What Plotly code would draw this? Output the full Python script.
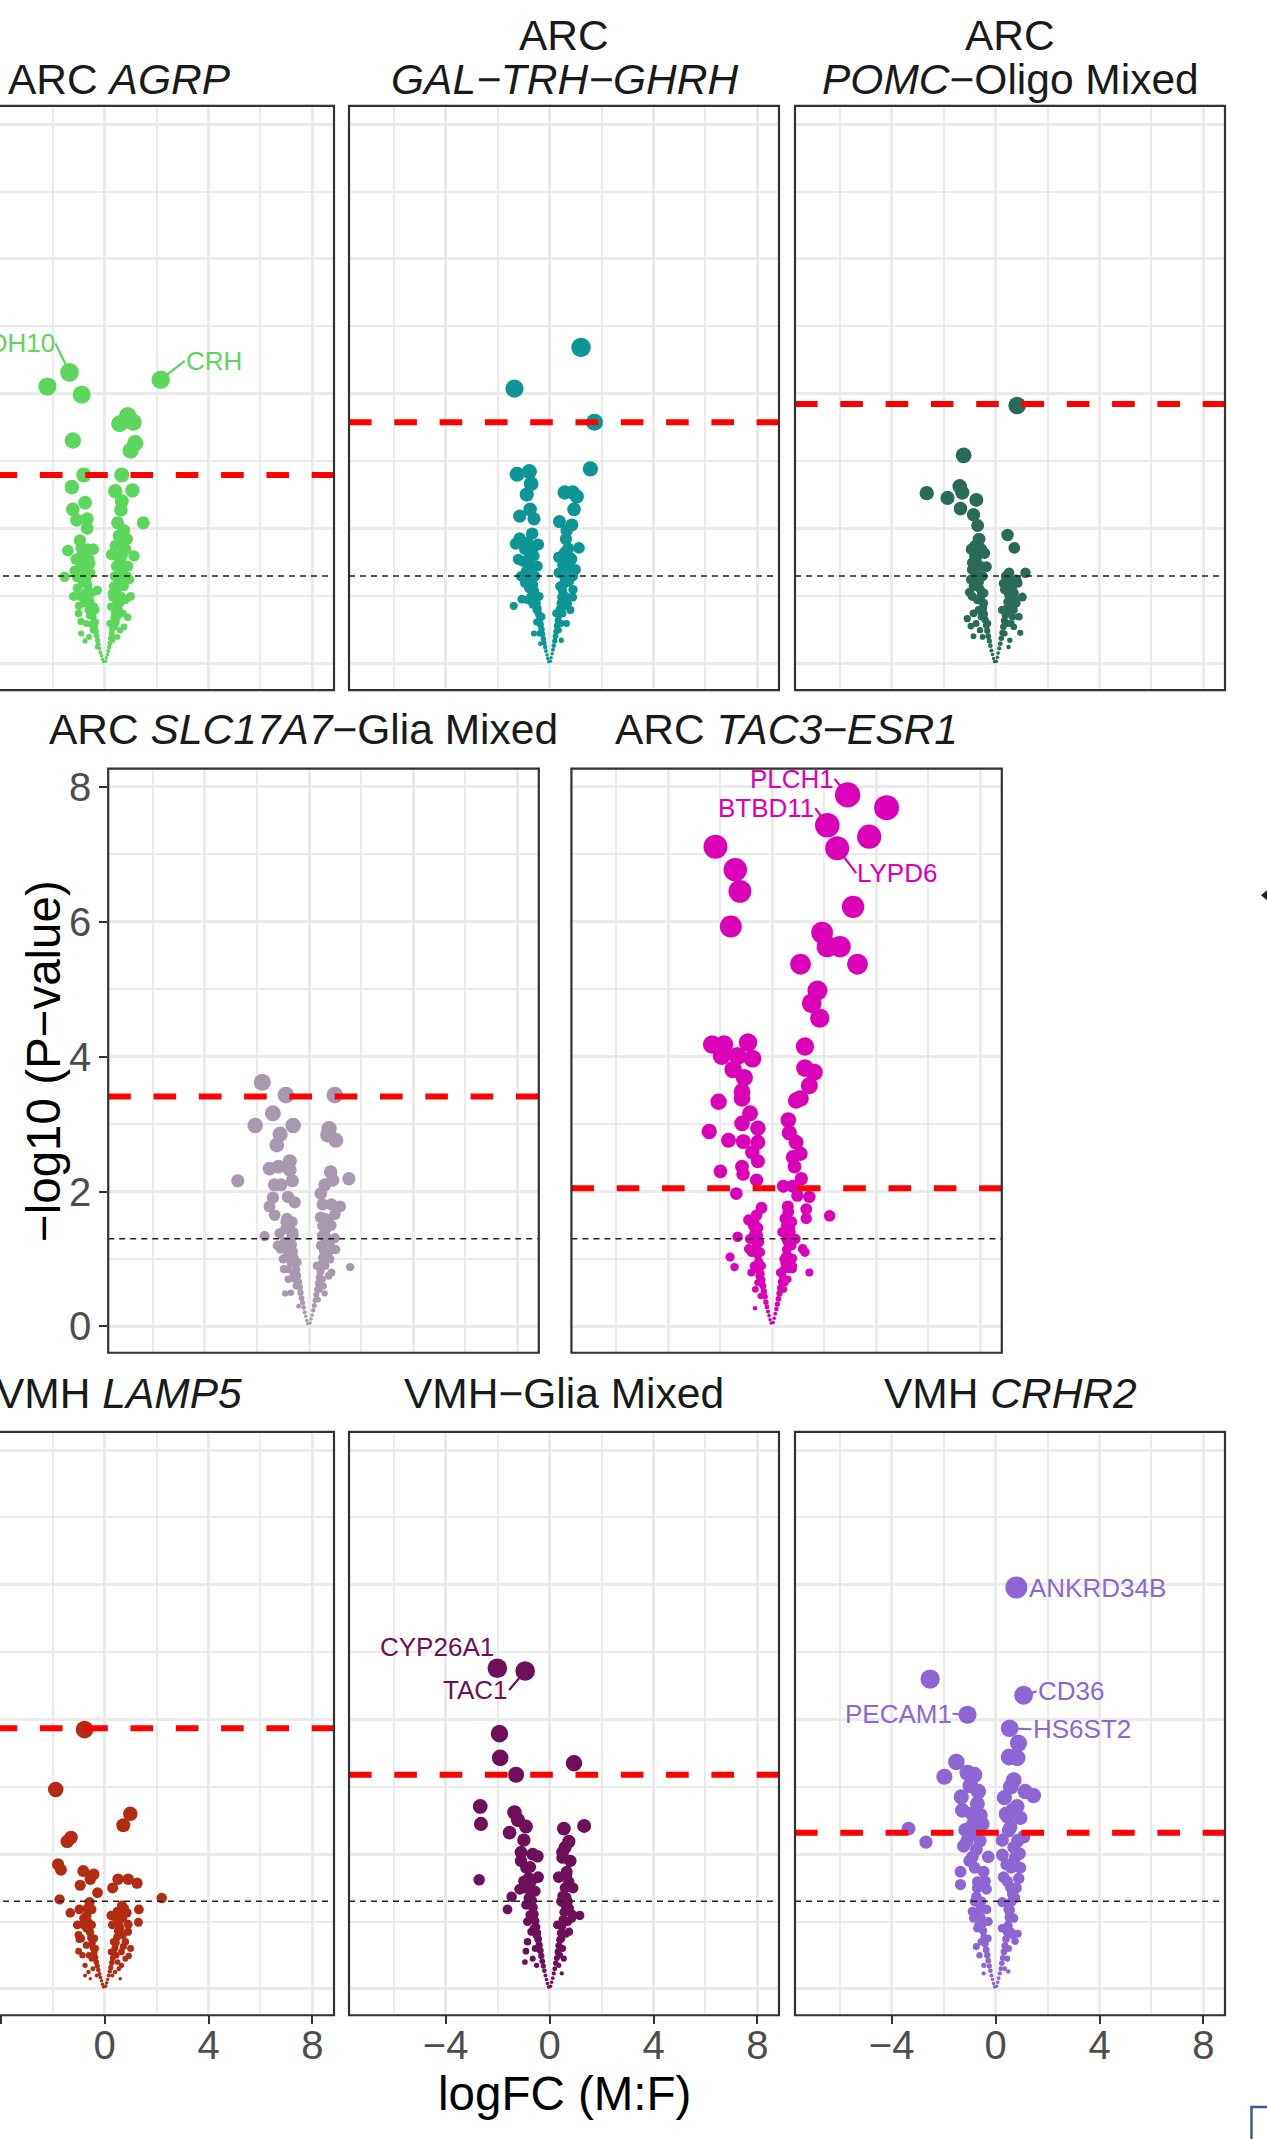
import math
import plotly.graph_objects as go

# ---------------- data ----------------
x_range = [-7.72, 8.83]
y_range = [-0.39, 8.27]
x_major = [-4, 0, 4, 8]
x_minor = [-6, -2, 2, 6]
y_major = [0, 2, 4, 6, 8]
y_minor = [1, 3, 5, 7]
nominal_p = 1.30103  # -log10(0.05)

agrp_pts = [(-1.35, 4.32), (-2.20, 4.11), (-0.88, 3.99), (2.16, 4.21), (0.58, 3.56), (0.89, 3.68),
            (1.10, 3.58), (-1.22, 3.31), (1.18, 3.27), (1.00, 3.16), (-0.80, 2.80), (0.66, 2.80),
            (-1.26, 2.62), (0.41, 2.56), (1.07, 2.57), (-0.75, 2.39), (0.66, 2.41), (-1.22, 2.29),
            (0.63, 2.28), (-1.07, 2.13), (-0.67, 2.15), (-0.67, 2.01), (0.50, 2.09), (1.49, 2.09),
            (0.74, 1.98), (-1.41, 1.68), (-0.44, 1.70), (-0.91, 1.58), (-0.56, 1.49), (0.42, 1.75),
            (0.86, 1.85), (1.13, 1.60), (0.27, 1.62), (-0.94, 1.42), (-1.07, 1.29), (-1.54, 1.29),
            (0.66, 1.42), (0.58, 1.22), (-0.28, 1.09), (-0.75, 0.99), (0.31, 0.99), (-0.99, 0.86),
            (0.89, 0.69), (-0.91, 0.63), (-0.75, 0.34), (0.50, 0.40),
            (-0.04, 0.03), (-0.08, 0.07), (-0.12, 0.12), (-0.16, 0.17), (-0.20, 0.23), (-0.24, 0.29),
            (-0.27, 0.35), (-0.31, 0.42), (-0.34, 0.48), (-0.38, 0.55), (-0.41, 0.62), (-0.45, 0.70),
            (-0.48, 0.77), (-0.52, 0.85), (-0.55, 0.93), (-0.59, 1.02), (-0.63, 1.10), (-0.66, 1.18),
            (-0.70, 1.26), (-0.74, 1.35), (-0.78, 1.44), (-0.82, 1.53), (-0.86, 1.62), (-0.90, 1.72),
            (-0.95, 1.83), (-0.30, 0.25), (-0.50, 0.58), (-0.62, 0.80), (-0.75, 1.05), (-0.85, 1.20),
            (-1.05, 1.12), (-0.45, 0.50), (-0.58, 0.72), (-0.35, 0.62), (-0.66, 0.95), (-0.80, 0.90),
            (-1.15, 1.38), (0.04, 0.04), (0.07, 0.09), (0.11, 0.14), (0.14, 0.19), (0.18, 0.25),
            (0.21, 0.31), (0.24, 0.38), (0.27, 0.45), (0.30, 0.52), (0.33, 0.60), (0.36, 0.68),
            (0.39, 0.76), (0.42, 0.85), (0.45, 0.94), (0.48, 1.03), (0.51, 1.12), (0.54, 1.21),
            (0.57, 1.31), (0.61, 1.41), (0.64, 1.51), (0.68, 1.62), (0.72, 1.73), (0.76, 1.85),
            (0.30, 0.35), (0.45, 0.62), (0.55, 0.80), (0.65, 1.00), (0.75, 1.15), (0.40, 0.55),
            (0.60, 0.90), (0.20, 0.60), (0.85, 1.30), (0.95, 1.25), (0.70, 0.75), (0.25, 0.85),
            (0.35, 1.15),
            (-0.85, 1.45), (-0.60, 1.55), (-0.95, 1.00), (-0.70, 0.60), (-0.55, 1.35), (-0.80, 1.65),
            (-1.10, 1.55), (-0.40, 0.85), (-0.65, 1.70), (-0.50, 1.05), (-1.00, 0.75), (-0.90, 0.45),
            (-0.60, 0.40), (-0.35, 0.80), (-1.20, 1.00), (0.55, 1.55), (0.70, 1.35), (0.40, 1.30),
            (0.80, 1.70), (0.50, 0.70), (0.65, 1.20), (0.30, 1.05), (0.80, 0.95), (0.90, 1.45),
            (0.45, 1.45), (0.60, 0.50), (0.35, 0.40), (1.00, 1.00), (0.75, 0.55), (0.55, 1.90)]

gal_pts = [(1.21, 4.69), (-1.35, 4.08), (1.73, 3.58), (1.57, 2.89), (-1.25, 2.81), (-0.78, 2.85),
           (-0.71, 2.67), (-0.88, 2.51), (0.58, 2.54), (0.89, 2.54), (1.05, 2.48), (0.94, 2.29),
           (-0.75, 2.29), (-1.15, 2.19), (-0.60, 2.15), (0.38, 2.11), (0.86, 2.06), (0.66, 1.98),
           (-1.15, 1.86), (-0.67, 1.93), (-1.30, 1.78), (-0.44, 1.77), (0.63, 1.85), (1.13, 1.72),
           (-0.67, 1.68), (0.35, 1.58), (0.82, 1.57), (-0.47, 1.45), (0.50, 1.47), (0.74, 1.39),
           (-0.91, 1.29), (-1.07, 0.96), (-1.38, 0.86), (0.89, 0.99),
           (-0.03, 0.03), (-0.07, 0.08), (-0.10, 0.13), (-0.14, 0.19), (-0.17, 0.25), (-0.21, 0.31),
           (-0.24, 0.37), (-0.28, 0.44), (-0.31, 0.51), (-0.35, 0.58), (-0.38, 0.66), (-0.42, 0.74),
           (-0.46, 0.82), (-0.50, 0.90), (-0.54, 0.99), (-0.58, 1.08), (-0.62, 1.17), (-0.66, 1.26),
           (-0.70, 1.36), (-0.74, 1.46), (-0.78, 1.57), (-0.83, 1.68), (-0.87, 1.80), (-0.50, 0.62),
           (-0.65, 0.88), (-0.80, 1.12), (-0.90, 1.38), (-0.40, 0.45), (-0.72, 1.00), (-0.95, 1.20),
           (-0.30, 0.70), (-1.02, 1.52), (-0.55, 1.30),
           (0.03, 0.04), (0.06, 0.09), (0.10, 0.15), (0.13, 0.21), (0.16, 0.27), (0.20, 0.34),
           (0.23, 0.41), (0.26, 0.48), (0.29, 0.56), (0.33, 0.64), (0.36, 0.72), (0.39, 0.81),
           (0.43, 0.90), (0.46, 0.99), (0.50, 1.08), (0.53, 1.18), (0.57, 1.28), (0.60, 1.38),
           (0.64, 1.49), (0.68, 1.60), (0.72, 1.71), (0.35, 0.50), (0.50, 0.75), (0.62, 1.00),
           (0.75, 1.22), (0.80, 1.40), (0.45, 0.60), (0.70, 0.90), (0.90, 1.10), (0.25, 0.75),
           (0.85, 1.55), (0.58, 1.65),
           (-0.80, 1.50), (-0.60, 1.60), (-0.95, 1.70), (-0.70, 1.15), (-0.85, 0.95), (-1.10, 1.30),
           (-0.50, 0.80), (-0.60, 0.45), (-0.40, 1.00), (-0.75, 1.75), (-1.20, 1.55), (-0.35, 0.30),
           (0.60, 1.20), (0.75, 1.45), (0.55, 0.85), (0.70, 1.70), (0.40, 1.15), (0.90, 1.30),
           (0.65, 0.60), (0.45, 0.35), (0.80, 0.80), (1.00, 1.40), (0.35, 1.35)]

pomc_pts = [(0.83, 3.83), (-1.23, 3.09), (-2.65, 2.53), (-1.85, 2.46), (-1.38, 2.63), (-1.28, 2.54),
            (-0.74, 2.43), (-1.35, 2.30), (-0.85, 2.21), (-0.69, 2.05), (-0.62, 1.85), (0.46, 1.91),
            (0.72, 1.72), (-0.92, 1.70), (-0.43, 1.64), (-0.89, 1.50), (-0.35, 1.44), (1.15, 1.35),
            (0.52, 1.35), (-0.82, 1.22), (0.31, 1.19), (0.65, 1.22), (1.03, 0.99), (-1.00, 1.06),
            (-1.09, 0.67), (-0.95, 0.56), (-0.85, 0.41), (0.95, 0.46),
            (-0.04, 0.03), (-0.08, 0.08), (-0.12, 0.14), (-0.16, 0.20), (-0.20, 0.27), (-0.24, 0.34),
            (-0.28, 0.41), (-0.32, 0.49), (-0.36, 0.57), (-0.40, 0.65), (-0.44, 0.74), (-0.48, 0.83),
            (-0.52, 0.92), (-0.56, 1.01), (-0.60, 1.11), (-0.64, 1.21), (-0.68, 1.31), (-0.72, 1.42),
            (-0.75, 1.55), (-0.70, 1.62), (-0.78, 1.75), (-0.55, 0.70), (-0.70, 0.95), (-0.85, 1.15),
            (-0.60, 0.50), (-0.50, 1.30), (-0.90, 1.40), (-0.45, 1.05), (-0.65, 1.85), (-0.30, 0.60),
            (0.03, 0.04), (0.07, 0.10), (0.10, 0.16), (0.14, 0.23), (0.18, 0.30), (0.22, 0.38),
            (0.26, 0.46), (0.30, 0.55), (0.34, 0.64), (0.38, 0.73), (0.42, 0.82), (0.46, 0.92),
            (0.50, 1.02), (0.54, 1.12), (0.58, 1.24), (0.45, 0.60), (0.60, 0.85), (0.72, 1.05),
            (0.80, 0.90), (0.35, 1.10), (0.65, 0.70), (0.25, 0.80), (0.85, 1.20), (0.70, 0.55),
            (0.55, 0.35), (0.40, 1.30),
            (-0.75, 1.30), (-0.60, 1.45), (-0.80, 1.60), (-0.90, 1.00), (-0.65, 0.80), (-0.70, 1.15),
            (-0.55, 1.70), (-0.85, 0.75), (-0.45, 0.90), (-0.95, 1.25), (-0.75, 0.60), (-0.50, 0.40),
            (0.55, 1.00), (0.65, 1.10), (0.70, 0.80), (0.50, 0.75), (0.60, 0.60), (0.45, 1.20),
            (0.75, 0.95), (0.35, 0.45), (0.90, 0.70), (0.80, 1.25), (0.50, 0.25)]

slc_pts = [(-1.80, 3.62), (-0.89, 3.43), (0.99, 3.43), (-1.39, 3.16), (-2.07, 2.98), (-0.61, 2.98),
           (-1.11, 2.85), (0.77, 2.93), (0.72, 2.84), (1.03, 2.76), (-1.24, 2.69), (-0.74, 2.45),
           (-1.52, 2.34), (-1.17, 2.37), (-0.74, 2.32), (-2.74, 2.16), (-0.64, 2.16), (-1.33, 2.10),
           (-1.08, 2.10), (0.83, 2.29), (1.53, 2.19), (0.61, 2.10), (0.91, 2.17), (0.45, 1.97),
           (-1.39, 1.91), (-0.81, 1.92), (-0.55, 1.84), (-1.52, 1.78), (0.86, 1.81), (1.19, 1.78),
           (0.52, 1.81), (-1.32, 1.65), (0.99, 1.66), (0.44, 1.62), (-0.89, 1.55), (0.52, 1.49),
           (-1.71, 1.34), (-1.13, 1.38), (0.99, 1.31), (-0.61, 1.40), (-1.21, 1.20), (-0.89, 1.14),
           (1.02, 1.14), (1.58, 0.88), (-0.97, 0.85), (0.86, 0.80), (-0.92, 0.49), (0.60, 0.49),
           (-0.05, 0.04), (-0.09, 0.09), (-0.13, 0.15), (-0.17, 0.21), (-0.21, 0.28), (-0.25, 0.35),
           (-0.29, 0.42), (-0.33, 0.50), (-0.37, 0.58), (-0.41, 0.66), (-0.45, 0.75), (-0.49, 0.84),
           (-0.53, 0.93), (-0.57, 1.02), (-0.61, 1.11), (-0.65, 1.21), (-0.69, 1.31), (-0.73, 1.42),
           (-0.77, 1.53), (-0.50, 0.60), (-0.70, 0.95), (-0.85, 1.05), (-0.40, 0.30), (-0.60, 0.78),
           (-0.95, 1.25), (-0.80, 0.70),
           (0.04, 0.05), (0.08, 0.11), (0.12, 0.17), (0.16, 0.24), (0.20, 0.31), (0.24, 0.39),
           (0.28, 0.47), (0.32, 0.55), (0.36, 0.64), (0.40, 0.73), (0.44, 0.82), (0.48, 0.92),
           (0.52, 1.02), (0.56, 1.12), (0.60, 1.23), (0.64, 1.34), (0.68, 1.46), (0.72, 1.58),
           (0.50, 0.70), (0.62, 0.90), (0.75, 1.10), (0.35, 0.40), (0.80, 1.25), (0.45, 1.20),
           (0.30, 0.90),
           (-0.75, 1.20), (-0.90, 1.45), (-0.65, 1.55), (-1.00, 1.00), (-0.55, 0.70), (-0.80, 0.85),
           (-0.70, 0.50), (-1.10, 1.15), (-0.60, 1.35), (-0.45, 0.95), (-0.85, 1.60),
           (0.60, 1.00), (0.70, 1.30), (0.55, 0.60), (0.65, 1.45), (0.80, 1.00), (0.50, 1.35),
           (0.75, 0.75), (0.40, 0.55), (0.85, 1.50), (0.60, 1.60), (0.90, 1.15)]

tac3_pts = [(2.90, 7.88), (4.40, 7.69), (2.12, 7.43), (3.73, 7.26), (2.50, 7.09), (-2.18, 7.11),
            (-1.42, 6.77), (-1.24, 6.45), (3.11, 6.22), (-1.59, 5.93), (1.92, 5.84), (2.12, 5.63),
            (2.61, 5.63), (1.09, 5.37), (3.28, 5.37), (1.74, 4.98), (1.52, 4.79), (1.83, 4.57),
            (1.26, 4.15), (-2.31, 4.18), (-1.85, 4.18), (-0.93, 4.21), (-1.94, 4.01), (-1.33, 4.01),
            (-0.76, 3.97), (-1.50, 3.81), (-1.07, 3.69), (1.26, 3.83), (1.61, 3.77), (1.43, 3.57),
            (1.09, 3.38), (0.92, 3.35), (-1.16, 3.48), (-1.16, 3.38), (-2.06, 3.33), (-0.85, 3.16),
            (0.62, 3.06), (0.66, 2.87), (-2.42, 2.89), (-1.16, 3.01), (-0.55, 2.94), (-1.68, 2.76),
            (-1.11, 2.74), (-0.55, 2.73), (-0.76, 2.58), (0.92, 2.73), (1.09, 2.56), (0.80, 2.51),
            (-0.55, 2.45), (-1.16, 2.37), (-1.12, 2.26), (-1.99, 2.30), (0.86, 2.37), (1.12, 2.19),
            (-0.60, 2.17), (-1.38, 1.97), (0.43, 2.08), (0.79, 2.08), (0.97, 1.94), (1.43, 1.92),
            (2.21, 1.64), (0.60, 1.78), (1.31, 1.74), (1.31, 1.60), (-0.41, 1.76), (-0.90, 1.58),
            (-0.55, 1.46), (-1.33, 1.33), (-1.62, 1.03), (-1.45, 0.88), (1.17, 1.15), (1.26, 1.10),
            (0.79, 1.01), (0.79, 0.85), (1.43, 0.80), (-0.66, 0.27),
            (-0.04, 0.05), (-0.08, 0.10), (-0.12, 0.16), (-0.16, 0.22), (-0.20, 0.29), (-0.24, 0.36),
            (-0.28, 0.44), (-0.32, 0.52), (-0.36, 0.60), (-0.40, 0.69), (-0.44, 0.78), (-0.48, 0.87),
            (-0.52, 0.97), (-0.56, 1.07), (-0.60, 1.17), (-0.64, 1.27), (-0.68, 1.38), (-0.72, 1.49),
            (-0.55, 0.65), (-0.70, 0.90), (-0.80, 1.10), (-0.45, 0.45), (-0.62, 1.45), (-0.85, 1.30),
            (-0.50, 1.25),
            (0.04, 0.06), (0.08, 0.12), (0.12, 0.19), (0.16, 0.26), (0.20, 0.33), (0.24, 0.41),
            (0.28, 0.49), (0.32, 0.57), (0.36, 0.66), (0.40, 0.75), (0.44, 0.84), (0.48, 0.94),
            (0.52, 1.04), (0.56, 1.14), (0.60, 1.25), (0.64, 1.36), (0.68, 1.47), (0.45, 0.55),
            (0.60, 0.70), (0.70, 0.95), (0.75, 1.20), (0.30, 0.80), (0.55, 1.50), (0.40, 1.40),
            (-0.70, 1.10), (-0.75, 1.30), (-0.60, 0.85), (-0.50, 0.75), (-0.65, 0.55), (-0.80, 0.80),
            (-0.55, 1.35), (-0.90, 1.15), (-0.40, 0.90), (-0.70, 1.55), (-0.60, 1.65), (-0.45, 1.10),
            (0.60, 1.05), (0.65, 0.85), (0.50, 0.65), (0.55, 1.30), (0.70, 1.40), (0.45, 1.00),
            (0.75, 1.55), (0.35, 0.55), (0.80, 0.90), (0.50, 1.60), (0.62, 1.70), (0.90, 1.30)]

lamp5_pts = [(-0.77, 3.85), (-1.88, 2.96), (0.99, 2.60), (0.72, 2.43), (-1.29, 2.25), (-1.44, 2.19),
             (-1.79, 1.85), (-1.68, 1.77), (-0.82, 1.75), (-0.42, 1.70), (-0.55, 1.63), (-0.94, 1.54),
             (0.52, 1.63), (0.91, 1.63), (1.25, 1.57), (0.31, 1.50), (-0.27, 1.43), (-1.73, 1.33),
             (2.20, 1.35), (-0.58, 1.29), (0.67, 1.24), (-0.50, 1.18), (-1.32, 1.13), (-0.97, 1.18),
             (0.86, 1.13), (1.32, 1.18), (0.25, 1.09), (0.44, 1.06), (1.30, 0.99), (-0.85, 0.96),
             (0.91, 0.96), (-1.00, 0.80), (-0.97, 0.74), (0.72, 0.63), (-1.00, 0.56), (0.93, 0.49),
             (-0.04, 0.03), (-0.08, 0.07), (-0.12, 0.12), (-0.16, 0.17), (-0.20, 0.22), (-0.24, 0.28),
             (-0.28, 0.34), (-0.32, 0.40), (-0.36, 0.47), (-0.40, 0.54), (-0.44, 0.61), (-0.48, 0.68),
             (-0.52, 0.76), (-0.56, 0.84), (-0.60, 0.92), (-0.64, 1.00), (-0.68, 1.09), (-0.30, 0.20),
             (-0.50, 0.45), (-0.70, 0.65), (-0.85, 0.50), (-0.75, 0.35), (-0.45, 0.30), (-0.62, 0.25),
             (0.04, 0.04), (0.08, 0.09), (0.12, 0.14), (0.16, 0.20), (0.20, 0.26), (0.24, 0.32),
             (0.28, 0.39), (0.32, 0.46), (0.36, 0.53), (0.40, 0.61), (0.44, 0.69), (0.48, 0.77),
             (0.52, 0.86), (0.56, 0.95), (0.30, 0.20), (0.50, 0.40), (0.65, 0.55), (0.80, 0.45),
             (0.55, 0.30), (0.70, 0.80), (0.40, 0.25), (0.25, 0.55),
             (-0.70, 0.90), (-0.80, 1.05), (-0.60, 0.50), (-0.50, 0.95), (-0.90, 0.75), (-0.75, 0.20),
             (-0.40, 0.75), (-0.65, 1.20), (-0.55, 0.15), (-0.35, 0.60), (-1.05, 0.95),
             (0.60, 0.90), (0.70, 1.05), (0.45, 0.50), (0.35, 0.70), (0.65, 0.35), (0.80, 0.70),
             (0.50, 1.15), (0.30, 0.95), (0.90, 0.85), (0.60, 0.15), (1.00, 0.60), (0.75, 1.20)]

glia_pts = [(-2.01, 4.76), (-0.94, 4.72), (-1.93, 3.79), (-1.90, 3.43), (-1.29, 3.18), (0.94, 3.35),
            (-2.67, 2.71), (-2.64, 2.45), (-2.71, 1.62), (-1.35, 2.62), (-1.22, 2.51), (-0.91, 2.41),
            (-1.54, 2.32), (-0.99, 2.21), (0.55, 2.38), (1.33, 2.42), (0.74, 2.19), (0.50, 2.03),
            (-1.10, 2.03), (-0.47, 1.97), (-0.75, 1.81), (0.66, 1.74), (0.35, 1.66), (-0.44, 1.66),
            (-0.99, 1.60), (0.74, 1.59), (-0.75, 1.50), (-1.15, 1.48), (-1.46, 1.37), (0.50, 1.38),
            (-1.62, 1.18), (0.86, 1.11), (1.16, 1.09), (-0.91, 0.56), (0.47, 0.23),
            (-0.04, 0.03), (-0.08, 0.08), (-0.12, 0.14), (-0.16, 0.20), (-0.20, 0.27), (-0.24, 0.34),
            (-0.28, 0.41), (-0.32, 0.49), (-0.36, 0.57), (-0.40, 0.65), (-0.44, 0.74), (-0.48, 0.83),
            (-0.52, 0.92), (-0.56, 1.01), (-0.60, 1.11), (-0.64, 1.21), (-0.68, 1.31), (-0.72, 1.42),
            (-0.76, 1.53), (-0.80, 1.65), (-0.55, 0.60), (-0.70, 0.85), (-0.85, 1.00), (-0.50, 0.35),
            (-0.90, 1.25), (-0.65, 0.45),
            (0.04, 0.04), (0.08, 0.10), (0.12, 0.16), (0.16, 0.23), (0.20, 0.30), (0.24, 0.38),
            (0.28, 0.46), (0.32, 0.55), (0.36, 0.64), (0.40, 0.73), (0.44, 0.83), (0.48, 0.93),
            (0.52, 1.03), (0.56, 1.14), (0.60, 1.25), (0.64, 1.36), (0.50, 0.60), (0.62, 0.82),
            (0.70, 1.00), (0.35, 0.35), (0.75, 1.20), (0.45, 1.30), (0.30, 0.95), (0.55, 0.45),
            (-0.80, 1.35), (-0.70, 1.60), (-0.90, 1.80), (-0.60, 0.90), (-0.75, 1.10), (-0.85, 0.70),
            (-1.00, 1.50), (-0.55, 1.45), (-0.65, 2.00), (-0.50, 0.80), (-1.10, 1.90), (-0.95, 0.40),
            (0.60, 1.50), (0.65, 1.70), (0.55, 1.00), (0.70, 1.30), (0.75, 0.85), (0.45, 0.75),
            (0.80, 1.90), (0.60, 2.10), (0.50, 1.95), (0.90, 1.50), (0.40, 0.50), (0.85, 1.05)]

crhr2_pts = [(0.80, 5.96), (-2.52, 4.60), (1.08, 4.36), (-1.08, 4.07), (0.54, 3.87), (0.88, 3.65),
             (0.52, 3.44), (0.83, 3.43), (-1.51, 3.37), (-1.97, 3.15), (-1.08, 3.21), (-0.82, 3.18),
             (-0.97, 3.02), (-0.66, 2.93), (0.58, 3.00), (1.14, 2.93), (1.46, 2.87), (0.34, 2.84),
             (-1.32, 2.85), (-1.28, 2.65), (0.83, 2.71), (-0.58, 2.58), (0.46, 2.56), (0.95, 2.54),
             (-0.89, 2.43), (-1.17, 2.36), (-3.35, 2.38), (-2.68, 2.18), (0.57, 2.40), (1.08, 2.26),
             (0.26, 2.21), (-1.23, 2.12), (-0.74, 2.07), (0.92, 2.01), (0.26, 1.99), (-0.28, 1.96),
             (-0.89, 1.96), (0.42, 1.85), (-1.35, 1.74), (-0.46, 1.74), (0.89, 1.64), (0.31, 1.66),
             (-1.35, 1.55), (-0.69, 1.59), (-0.35, 1.48), (0.57, 1.51), (-0.74, 1.37), (0.26, 1.29),
             (-0.89, 1.15), (-0.35, 1.18), (0.49, 1.18), (-0.28, 1.00), (0.49, 0.93), (0.85, 0.82),
             (0.75, 0.71), (-0.74, 0.63), (0.49, 0.26), (-0.46, 0.23),
             (-0.04, 0.03), (-0.08, 0.08), (-0.12, 0.14), (-0.16, 0.20), (-0.20, 0.27), (-0.24, 0.34),
             (-0.28, 0.42), (-0.32, 0.50), (-0.36, 0.58), (-0.40, 0.67), (-0.44, 0.76), (-0.48, 0.86),
             (-0.52, 0.96), (-0.56, 1.06), (-0.60, 1.17), (-0.64, 1.28), (-0.55, 0.70), (-0.70, 0.90),
             (-0.75, 1.10), (-0.62, 0.50), (-0.45, 0.35), (-0.80, 1.30), (-0.30, 0.75),
             (0.04, 0.04), (0.08, 0.10), (0.12, 0.16), (0.16, 0.23), (0.20, 0.30), (0.24, 0.38),
             (0.28, 0.46), (0.32, 0.55), (0.36, 0.64), (0.40, 0.74), (0.44, 0.84), (0.48, 0.95),
             (0.52, 1.06), (0.56, 1.17), (0.60, 1.29), (0.64, 1.41), (0.50, 0.60), (0.65, 0.80),
             (0.70, 1.05), (0.35, 0.30), (0.45, 0.45), (0.75, 1.35), (0.25, 0.90),
             (-0.70, 1.50), (-0.80, 1.80), (-0.60, 2.20), (-0.90, 2.60), (-0.75, 2.30), (-0.55, 1.30),
             (-0.65, 0.95), (-1.00, 1.90), (-0.50, 2.45), (-0.85, 1.05), (-1.10, 2.20), (-0.40, 1.60),
             (-0.70, 2.75), (0.60, 1.80), (0.70, 2.10), (0.50, 2.35), (0.65, 2.65), (0.80, 1.50),
             (0.55, 1.10), (0.75, 1.95), (0.45, 1.60), (0.85, 2.20), (0.60, 0.85), (0.70, 3.10),
             (0.40, 2.60), (0.95, 1.80)]

# significance thresholds (red dashed lines), -log10 scale
thresholds = {"agrp": 2.80, "gal": 3.58, "pomc": 3.85, "slc": 3.41,
              "tac3": 2.05, "lamp5": 3.87, "glia": 3.18, "crhr2": 2.32}

# labelled genes: (gene, logFC, -log10 p)
gene_labels = {
    "agrp": [("CDH10", -1.35, 4.32), ("CRH", 2.16, 4.21)],
    "tac3": [("PLCH1", 2.90, 7.88), ("BTBD11", 2.12, 7.43), ("LYPD6", 2.50, 7.09)],
    "glia": [("CYP26A1", -2.01, 4.76), ("TAC1", -0.94, 4.72)],
    "crhr2": [("ANKRD34B", 0.80, 5.96), ("CD36", 1.08, 4.36), ("PECAM1", -1.08, 4.07),
              ("HS6ST2", 0.54, 3.87)],
}

panel_points = {"agrp": agrp_pts, "gal": gal_pts, "pomc": pomc_pts, "slc": slc_pts,
                "tac3": tac3_pts, "lamp5": lamp5_pts, "glia": glia_pts, "crhr2": crhr2_pts}

# ---------------- styling / layout ----------------
W, H = 1267, 2139
FONT = "Liberation Sans, Arial, Helvetica, sans-serif"

colors = {"agrp": "#5CD65C", "gal": "#0E9696", "pomc": "#2A6A58", "slc": "#A898B0",
          "tac3": "#DB00B8", "lamp5": "#B22B12", "glia": "#6E0F5A", "crhr2": "#8E66D4"}

order = ["agrp", "gal", "pomc", "slc", "tac3", "lamp5", "glia", "crhr2"]
# full panel boxes in pixels: left, right, top, bottom
boxes = {
    "agrp": (-96, 334, 102, 687.5), "gal": (349, 779, 102, 687.5), "pomc": (795, 1225, 102, 687.5),
    "slc": (108.2, 538.8, 766, 1351.3), "tac3": (571.4, 1001.8, 766, 1351.3),
    "lamp5": (-96, 334, 1430.5, 2015), "glia": (349, 779, 1430.5, 2015), "crhr2": (795, 1225, 1430.5, 2015),
}
bottom_row = {"lamp5", "glia", "crhr2"}
yaxis_panel = "slc"

# label placement (pixel offsets of the label anchor from the point)
label_style = {
    "CDH10": dict(dx=-14, dy=-29, anchor="right", arrow=True),
    "CRH": dict(dx=24, dy=-19, anchor="left", arrow=True),
    "PLCH1": dict(dx=-13, dy=-16, anchor="right", arrow=True),
    "BTBD11": dict(dx=-12, dy=-17, anchor="right", arrow=True),
    "LYPD6": dict(dx=19, dy=25, anchor="left", arrow=True),
    "CYP26A1": dict(dx=-2, dy=-21, anchor="right", arrow=False),
    "TAC1": dict(dx=-16, dy=19, anchor="right", arrow=True),
    "ANKRD34B": dict(dx=12, dy=1, anchor="left", arrow=False),
    "CD36": dict(dx=13, dy=-4, anchor="left", arrow=True),
    "PECAM1": dict(dx=-15, dy=-1, anchor="right", arrow=True),
    "HS6ST2": dict(dx=22, dy=1, anchor="left", arrow=True),
}

titles = {
    "agrp": ["ARC <i>AGRP</i>"],
    "gal": ["ARC", "<i>GAL−TRH−GHRH</i>"],
    "pomc": ["ARC", "<i>POMC</i>−Oligo Mixed"],
    "slc": ["ARC <i>SLC17A7</i>−Glia Mixed"],
    "tac3": ["ARC <i>TAC3−ESR1</i>"],
    "lamp5": ["VMH <i>LAMP5</i>"],
    "glia": ["VMH−Glia Mixed"],
    "crhr2": ["VMH <i>CRHR2</i>"],
}
title_centers_x = {"agrp": 119, "gal": 564, "pomc": 1010, "slc": 303.5, "tac3": 786.6,
                   "lamp5": 119, "glia": 564, "crhr2": 1010}
title_line_y = {"top": [32.0, 76.0], "mid": [727.3], "bot": [1392.0]}
row_of = {"agrp": "top", "gal": "top", "pomc": "top", "slc": "mid", "tac3": "mid",
          "lamp5": "bot", "glia": "bot", "crhr2": "bot"}


def size_of(v):
    return max(3.5, 9.0 * math.sqrt(max(v, 0.0)))


fig = go.Figure()
layout = dict(width=W, height=H, margin=dict(l=0, r=0, t=0, b=0), showlegend=False,
              paper_bgcolor="white", plot_bgcolor="white", font=dict(family=FONT),
              annotations=[], shapes=[])

GRID = "#EBEBEB"
for i, key in enumerate(order, start=1):
    xa = "x" if i == 1 else f"x{i}"
    ya = "y" if i == 1 else f"y{i}"
    left, right, top, bottom = boxes[key]
    vis_l, vis_r = max(0.0, left), min(float(W), right)
    span = x_range[1] - x_range[0]
    xr = [x_range[0] + (vis_l - left) / (right - left) * span,
          x_range[0] + (vis_r - left) / (right - left) * span]
    show_x = key in bottom_row
    show_y = key == yaxis_panel
    layout["xaxis" if i == 1 else f"xaxis{i}"] = dict(
        domain=[vis_l / W, vis_r / W], range=xr, anchor=ya, zeroline=False,
        tickmode="array", tickvals=x_major, showgrid=True, gridcolor=GRID, gridwidth=2.6,
        minor=dict(tickvals=x_minor, showgrid=True, gridcolor=GRID, gridwidth=1.5, ticks=""),
        showticklabels=show_x, ticks="outside" if show_x else "", ticklen=8, tickwidth=2.2,
        ticklabelstandoff=-13,
        tickcolor="#333333", tickfont=dict(size=40, color="#4D4D4D", family=FONT),
        showline=False, fixedrange=True)
    layout["yaxis" if i == 1 else f"yaxis{i}"] = dict(
        domain=[1 - bottom / H, 1 - top / H], range=y_range, anchor=xa, zeroline=False,
        tickmode="array", tickvals=y_major, showgrid=True, gridcolor=GRID, gridwidth=2.6,
        minor=dict(tickvals=y_minor, showgrid=True, gridcolor=GRID, gridwidth=1.5, ticks=""),
        showticklabels=show_y, ticks="outside" if show_y else "", ticklen=8, tickwidth=2.2,
        tickcolor="#333333", tickfont=dict(size=40, color="#4D4D4D", family=FONT),
        showline=False, fixedrange=True)

    pts = panel_points[key]
    xs = [p[0] for p in pts]
    ys = [p[1] for p in pts]
    col = colors[key]
    fig.add_trace(go.Scatter(x=xs, y=ys, mode="markers", xaxis=xa, yaxis=ya,
                             marker=dict(color=col, size=[size_of(v) for v in ys], opacity=1,
                                         line=dict(width=0)),
                             hoverinfo="skip", cliponaxis=True))
    # nominal p = 0.05 line
    fig.add_trace(go.Scatter(x=x_range, y=[nominal_p, nominal_p], mode="lines", xaxis=xa, yaxis=ya,
                             line=dict(color="#222222", width=1.5, dash="6px,5px"), hoverinfo="skip"))
    # corrected threshold line
    thr = thresholds[key]
    fig.add_trace(go.Scatter(x=x_range, y=[thr, thr], mode="lines", xaxis=xa, yaxis=ya,
                             line=dict(color="#FF0000", width=6, dash="22.6px,22.7px"), hoverinfo="skip"))

    # panel border
    layout["shapes"].append(dict(type="rect", xref=f"{xa} domain", yref=f"{ya} domain",
                                 x0=-0.6 if left < 0 else 0, x1=1, y0=0, y1=1,
                                 line=dict(color="#333333", width=2.2), fillcolor="rgba(0,0,0,0)",
                                 layer="above"))

    # gene labels
    for gene, gx, gy in gene_labels.get(key, []):
        st = label_style[gene]
        r = size_of(gy) / 2
        if st["arrow"]:
            layout["annotations"].append(dict(
                x=gx, y=gy, xref=xa, yref=ya, text=gene, showarrow=True, ax=st["dx"], ay=st["dy"],
                xanchor=st["anchor"], yanchor="middle", arrowhead=0, arrowwidth=2.2, arrowcolor=col,
                standoff=r * 0.5, font=dict(size=26, color=col, family=FONT), borderpad=0))
        else:
            layout["annotations"].append(dict(
                x=gx, y=gy, xref=xa, yref=ya, text=gene, showarrow=False, xshift=st["dx"],
                yshift=-st["dy"], xanchor=st["anchor"], yanchor="middle",
                font=dict(size=26, color=col, family=FONT), borderpad=0))

    # panel titles
    lines = titles[key]
    ys_t = title_line_y[row_of[key]]
    if len(lines) == 1:
        ys_t = [ys_t[-1]]
    for txt, ty in zip(lines, ys_t):
        layout["annotations"].append(dict(
            x=title_centers_x[key] / W, y=1 - ty / H, xref="paper", yref="paper", text=txt,
            showarrow=False, xanchor="center", yanchor="middle",
            font=dict(size=42.5, color="#1A1A1A", family=FONT)))

# axis titles
layout["annotations"].append(dict(x=564 / W, y=1 - 2093 / H, xref="paper", yref="paper",
                                  text="logFC (M:F)", showarrow=False, xanchor="center",
                                  yanchor="middle", font=dict(size=47.5, color="black", family=FONT)))
layout["annotations"].append(dict(x=43 / W, y=1 - 1059 / H, xref="paper", yref="paper",
                                  text="−log10 (P−value)", showarrow=False, textangle=-90,
                                  xanchor="center", yanchor="middle",
                                  font=dict(size=47.5, color="black", family=FONT)))

# cropped fragments at the right edge (arrow head and corner of a box)
layout["shapes"].append(dict(type="path", xref="paper", yref="paper",
                             path=f"M {1267/W},{1-888/H} L {1261/W},{1-893/H} L {1267/W},{1-898/H} Z",
                             fillcolor="#222222", line=dict(width=0)))
layout["shapes"].append(dict(type="path", xref="paper", yref="paper",
                             path=f"M {1251.5/W},{0} L {1251.5/W},{1-2107/H} L {1.0},{1-2107/H}",
                             line=dict(color="#3A5A98", width=2.5)))

fig.update_layout(**layout)
fig.write_html("out.html", config={"displayModeBar": False},
               post_script="document.body.style.margin='0';document.body.style.overflow='hidden';")
